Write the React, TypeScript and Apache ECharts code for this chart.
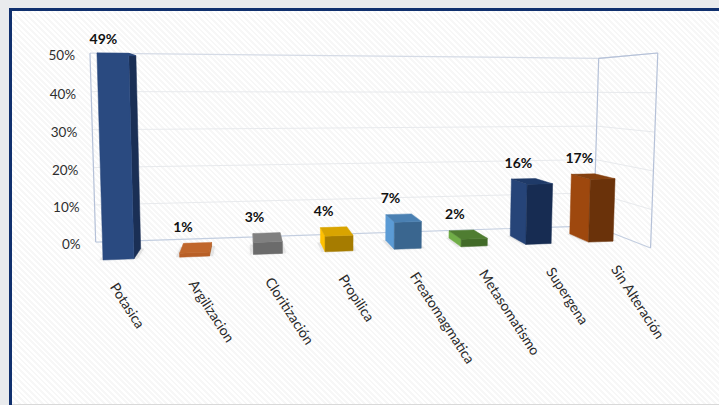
import React, { useEffect, useRef } from "react";
import * as echarts from "echarts";

// Alteration types and their share of the samples, in percent.
const categories = [
  "Potasica",
  "Argilizacion",
  "Cloritización",
  "Propilica",
  "Freatomagmatica",
  "Metasomatismo",
  "Supergena",
  "Sin Alteración",
];
const shares = [49, 1, 3, 4, 7, 2, 16, 17];
const valueTicks = [0, 10, 20, 30, 40, 50];

// Face colours per bar: lit side, top, shaded face.
const lightFaces = ["#2a4a80", "#b85f26", "#8a8a8a", "#ffc000", "#5b9bd5", "#70ad47", "#264478", "#9e480e"];
const topFaces = ["#2a4a80", "#c0662b", "#808080", "#d9a400", "#4a80b2", "#4f7d31", "#1f3a68", "#84400f"];
const darkFaces = ["#1a2f55", "#a9581f", "#6b6b6b", "#a67c00", "#3a668f", "#426b28", "#172c52", "#6a320a"];

const FONT = "Lato, Carlito, 'Noto Sans', sans-serif";
const BAR_SPAN = 0.4;
const DEPTH_BACK = 1.9;
const DEPTH_FRONT = -0.82;
const EDGE_LEFT = -0.33;
const EDGE_RIGHT = 7.705;

// Perspective camera: i = category position, d = depth, v = value in percent.
function project(i: number, d: number, v: number): [number, number] {
  const a = 0.01774;
  const b = 0.065;
  const c = -0.0005;
  const w = 1 + a * i + b * d + c * v;
  const x = 103 + 79.8 * i + 245 * b * d + 345 * c * v;
  const y = 260 + 1.74 * i + 90 * b * d + 8500 * c * v;
  return [x / w, y / w];
}

// Reads the category position and value back out of the axis scales.
function fromAxes(params: any, api: any, cat: number, value: number) {
  const cs = params.coordSys;
  const pt = api.coord([cat, value]);
  return {
    i: ((pt[0] - cs.x) / cs.width) * categories.length - 0.5,
    v: ((cs.y + cs.height - pt[1]) / cs.height) * valueTicks[valueTicks.length - 1],
  };
}

function poly(points: [number, number][], fill: string, extra: any = {}) {
  return { type: "polygon", shape: { points }, style: { fill, stroke: fill, lineWidth: 0.5, ...extra }, silent: true };
}

function renderWall(params: any, api: any) {
  const tick = api.value(1);
  const { v } = fromAxes(params, api, 0, tick);
  const isEdge = tick === 0 || tick === 50;
  const stroke = tick === 0 ? "#c3cee0" : tick === 50 ? "#d5dbe6" : "#e8eaed";
  const children: any[] = [
    {
      type: "polyline",
      shape: { points: [project(EDGE_LEFT, DEPTH_BACK, v), project(EDGE_RIGHT, DEPTH_BACK, v), project(EDGE_RIGHT, DEPTH_FRONT, v)] },
      style: { stroke, lineWidth: isEdge ? 1.2 : 1, fill: "none" },
      silent: true,
    },
  ];
  if (tick === 50) {
    const top = fromAxes(params, api, 0, 50).v;
    const verticals: [number, number][] = [
      [EDGE_LEFT, DEPTH_BACK],
      [EDGE_RIGHT, DEPTH_BACK],
      [EDGE_RIGHT, DEPTH_FRONT],
    ];
    verticals.forEach(([i, d]) =>
      children.push({
        type: "line",
        shape: (() => {
          const p = project(i, d, 0);
          const q = project(i, d, top);
          return { x1: p[0], y1: p[1], x2: q[0], y2: q[1] };
        })(),
        style: { stroke: "#b5c1d8", lineWidth: 1.2 },
        silent: true,
      }),
    );
    const [x3, y3] = project(EDGE_RIGHT, DEPTH_BACK, top);
    const [x4, y4] = project(EDGE_RIGHT, DEPTH_FRONT, top);
    children.push({ type: "line", shape: { x1: x3, y1: y3, x2: x4, y2: y4 }, style: { stroke: "#b5c1d8", lineWidth: 1.2 }, silent: true });
  }
  const [lx, ly] = project(EDGE_LEFT, DEPTH_BACK, v);
  children.push({
    type: "text",
    x: lx - 15,
    y: ly + 2,
    style: { text: `${tick}%`, fontFamily: FONT, fontSize: 13.5, fill: "#2e2e2e", align: "right", verticalAlign: "middle" },
    silent: true,
  });
  return { type: "group", children };
}

function renderBar(params: any, api: any) {
  const idx = api.value(0);
  const { i, v } = fromAxes(params, api, idx, api.value(1));
  const left = i;
  const right = left + BAR_SPAN;
  const fl0 = project(left, 0, 0);
  const fr0 = project(right, 0, 0);
  const bl0 = project(left, 1, 0);
  const br0 = project(right, 1, 0);
  const fl = project(left, 0, v);
  const fr = project(right, 0, v);
  const bl = project(left, 1, v);
  const br = project(right, 1, v);

  const children: any[] = [];
  // Soft contact shadow on the floor
  const s = 0.05;
  children.push(
    poly(
      [project(left - s, 0, 0), project(right + s, 0, 0), project(right + s, 1, 0), project(left - s, 1, 0)],
      "rgba(170,170,170,0.22)",
      { stroke: "none", lineWidth: 0, shadowBlur: 4, shadowColor: "rgba(140,140,140,0.35)" },
    ),
  );
  if (bl0[0] < fl0[0]) children.push(poly([bl0, fl0, fl, bl], lightFaces[idx]));
  if (br0[0] > fr0[0]) children.push(poly([fr0, br0, br, fr], darkFaces[idx]));
  // The front takes the lit colour only while its right side is the shaded one
  const frontFill = br0[0] > fr0[0] ? lightFaces[idx] : darkFaces[idx];
  children.push(poly([fl0, fr0, fr, fl], frontFill));
  children.push(poly([fl, fr, br, bl], topFaces[idx]));

  // Value above the bar
  const center = project(left + BAR_SPAN / 2, 0, v);
  children.push({
    type: "text",
    x: center[0] - 9.5 - 2 * idx,
    y: bl[1] - 17,
    style: {
      text: `${api.value(1)}%`,
      fontFamily: FONT,
      fontSize: 14,
      fontWeight: "bold",
      fill: "#111111",
      align: "center",
      verticalAlign: "middle",
    },
    silent: true,
  });

  // Category name, slanted below the floor
  const foot = project(left + BAR_SPAN / 2, 0, 0);
  children.push({
    type: "text",
    x: foot[0] - 4.5 + 2.7 * idx,
    y: foot[1] + 24.5,
    rotation: (-57 * Math.PI) / 180,
    style: {
      text: categories[idx],
      fontFamily: FONT,
      fontSize: 14,
      fill: "#2a2a2a",
      align: "left",
      verticalAlign: "middle",
    },
    silent: true,
  });
  return { type: "group", children };
}

export default function App() {
  const ref = useRef<HTMLDivElement>(null);

  useEffect(() => {
    const chart = echarts.init(ref.current!, undefined, { renderer: "svg" });
    chart.setOption({
      animation: false,
      grid: { left: 100, right: 100, top: 50, bottom: 150 },
      xAxis: { type: "category", data: categories, show: false },
      yAxis: { type: "value", min: 0, max: 50, interval: 10, show: false },
      graphic: {
        elements: [
          { type: "rect", z: -10, shape: { x: 0, y: 0, width: 719, height: 8 }, style: { fill: "#e9ebed" }, silent: true },
          { type: "rect", z: -10, shape: { x: 0, y: 0, width: 9, height: 405 }, style: { fill: "#e9ebed" }, silent: true },
          { type: "rect", z: -10, shape: { x: 9, y: 8, width: 710, height: 3 }, style: { fill: "#10306e" }, silent: true },
          { type: "rect", z: -10, shape: { x: 9, y: 8, width: 3, height: 397 }, style: { fill: "#10306e" }, silent: true },
          { type: "rect", z: -10, shape: { x: 12, y: 404, width: 707, height: 1 }, style: { fill: "#d9d9d9" }, silent: true },
        ],
      },
      series: [
        {
          type: "custom",
          coordinateSystem: "cartesian2d",
          clip: false,
          z: 1,
          data: valueTicks.map((t) => [0, t]),
          renderItem: renderWall,
        },
        {
          type: "custom",
          coordinateSystem: "cartesian2d",
          clip: false,
          z: 2,
          data: shares.map((s, i) => [i, s]),
          renderItem: renderBar,
        },
      ],
    });
    return () => chart.dispose();
  }, []);

  return (
    <div
      ref={ref}
      style={{
        position: "absolute",
        left: 0,
        top: 0,
        width: 719,
        height: 405,
        background: "repeating-linear-gradient(45deg, #ffffff 0 2px, #f7f7f7 2px 4px)",
      }}
    />
  );
}
